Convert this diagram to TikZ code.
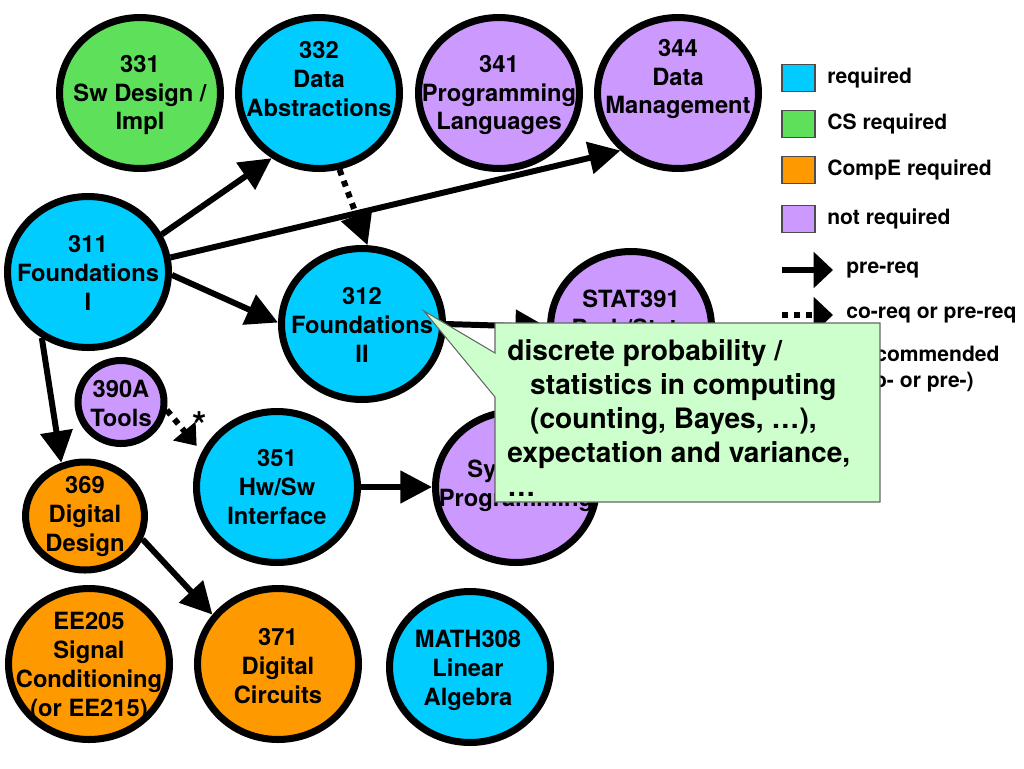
\documentclass[tikz,border=0pt]{standalone}
\usepackage{fontspec}
\setmainfont{TeX Gyre Heros}
\usetikzlibrary{arrows.meta,shapes.geometric}

\definecolor{reqBlue}{HTML}{00CCFF}
\definecolor{csGreen}{HTML}{5FE05A}
\definecolor{compeOrange}{HTML}{FF9900}
\definecolor{optPurple}{HTML}{CC99FF}
\definecolor{noteGreen}{HTML}{CCFFCC}

\tikzset{
    course/.style={ellipse,draw=black,line width=4pt,inner sep=0pt,minimum width=3.22cm,minimum height=3.02cm},
    courseText/.style={align=center,inner sep=0pt,font=\fontsize{13.5}{16.5}\selectfont\bfseries},
    preReq/.style={line width=3.4pt,-{Triangle[length=18pt,width=18pt]}},
    coReq/.style={preReq,dash pattern=on 3.4pt off 3.4pt},
    recReq/.style={line width=3.4pt,dash pattern=on 3.4pt off 3.4pt,-{Triangle[length=11pt,width=16pt]}},
    keyBox/.style={draw=black!70,line width=0.6pt,inner sep=0pt,minimum width=0.66cm,minimum height=0.54cm},
    keyText/.style={anchor=west,inner sep=0pt,font=\fontsize{12}{14.7}\selectfont\bfseries},
    keyArrow/.style={line width=3.4pt,-{Triangle[length=11pt,width=20pt]}},
    noteBox/.style={fill=noteGreen,draw=black!60,line width=0.6pt},
    noteText/.style={align=left,inner sep=0pt,font=\fontsize{16}{19.3}\selectfont\bfseries}
}

\begin{document}
\begin{tikzpicture}[x=0.02cm,y=-0.02cm]

        \useasboundingbox (0,0) rectangle (1024,768);

        % --------
        % Courses.
        % --------

        % Top row.
        \node[course,fill=csGreen]   (c331) at (140,93) {};
        \node[course,fill=reqBlue]   (c332) at (319,93) {};
        \node[course,fill=optPurple] (c341) at (499,93) {};
        \node[course,fill=optPurple] (c344) at (678,93) {};

        % Foundations.
        \node[course,fill=reqBlue]   (c311) at (88,272) {};
        \node[course,fill=reqBlue]   (c312) at (362,324) {};
        \node[course,fill=optPurple] (cStat) at (631,327) {};

        % Middle row.
        \node[course,fill=optPurple,minimum width=1.72cm,minimum height=1.66cm] (c390) at (121,402) {};
        \node[course,fill=reqBlue]   (c351) at (277,487) {};
        \node[course,fill=optPurple] (c333) at (516,487) {};
        \node[course,fill=compeOrange,minimum width=2.38cm,minimum height=2.16cm] (c369) at (85,516) {};

        % Bottom row.
        \node[course,fill=compeOrange] (cEE) at (89,664) {};
        \node[course,fill=compeOrange] (c371) at (278,664) {};
        \node[course,fill=reqBlue]     (cMath) at (470,667) {};

        % ------------
        % Connections.
        % ------------

        \draw[preReq](c311.27)--(c332.234);
        \draw[preReq](c311.10)--(c344.225);
        \draw[preReq](c311.-2)--(c312.179);
        \draw[preReq](c311.235)--(c369.114);
        \draw[coReq](c332.285)--(c312.86);
        \draw[preReq](c312.east)--(cStat.west);
        \draw[recReq,shorten >=4.5pt](c390.-10)--(c351.155);
        \node[inner sep=0pt,font=\fontsize{21}{21}\selectfont\bfseries] (star) at (200,425) {*};
        \draw[preReq](c351.east)--(c333.west);
        \draw[preReq](c369.-22)--(c371.143);

        % -------------
        % Course texts.
        % -------------

        \node[courseText] (t331) at (140,95) {331\\Sw Design /\\Impl};
        \node[courseText] (t332) at (319,79) {332\\Data\\Abstractions};
        \node[courseText] (t341) at (499,95) {341\\Programming\\Languages};
        \node[courseText] (t344) at (678,79) {344\\Data\\Management};
        \node[courseText] (t311) at (88,273) {311\\Foundations\\I};
        \node[courseText] (t312) at (362,325) {312\\Foundations\\II};
        \node[courseText] (tStat) at (631,313) {STAT391\\Prob/Stats};
        \node[courseText] (t390) at (121,403) {390A\\Tools};
        \node[courseText] (t351) at (277,487) {351\\Hw/Sw\\Interface};
        \node[courseText] (t333) at (516,471) {333\\Systems\\Programming};
        \node[courseText] (t369) at (85,516) {369\\Digital\\Design};
        \node[courseText] (tEE) at (89,667) {EE205\\Signal\\Conditioning\\(or EE215)};
        \node[courseText] (t371) at (278,666) {371\\Digital\\Circuits};
        \node[courseText] (tMath) at (468,670) {MATH308\\Linear\\Algebra};

        % -------
        % Legend.
        % -------

        % Colours.
        \node[keyBox,fill=reqBlue]     (kReq) at (798.5,78) {};
        \node[keyText] (lReq) at (827,78) {required};
        \node[keyBox,fill=csGreen]     (kCS) at (798.5,124) {};
        \node[keyText] (lCS) at (827,124) {CS required};
        \node[keyBox,fill=compeOrange] (kCompE) at (798.5,170) {};
        \node[keyText] (lCompE) at (827,170) {CompE required};
        \node[keyBox,fill=optPurple]   (kOpt) at (798.5,219) {};
        \node[keyText] (lOpt) at (827,219) {not required};

        % Arrows.
        \coordinate (kPreA) at (782,270);
        \coordinate (kPreB) at (833,270);
        \draw[keyArrow](kPreA)--(kPreB);
        \node[keyText] (lPre) at (846,270) {pre-req};
        \coordinate (kCoA) at (782,315);
        \coordinate (kCoB) at (833,315);
        \draw[keyArrow,dash pattern=on 3.4pt off 3.4pt](kCoA)--(kCoB);
        \node[keyText] (lCo) at (846,315) {co-req or pre-req};
        \node[keyText,anchor=base west,align=left] (lRec) at (855,387) {recommended\\(co- or pre-)};

        % --------
        % Callout.
        % --------

        \coordinate (tip) at (424,311);
        \draw[noteBox](495,323)--(880,323)--(880,502)--(495,502)--(495,397)--(tip)--(495,353)--cycle;
        \node[noteText,anchor=base west] (note) at (507,496) {discrete probability /\\\hspace{13pt}statistics in computing\\\hspace{13pt}(counting, Bayes, …),\\expectation and variance,\\…};

    \end{tikzpicture}
\end{document}
